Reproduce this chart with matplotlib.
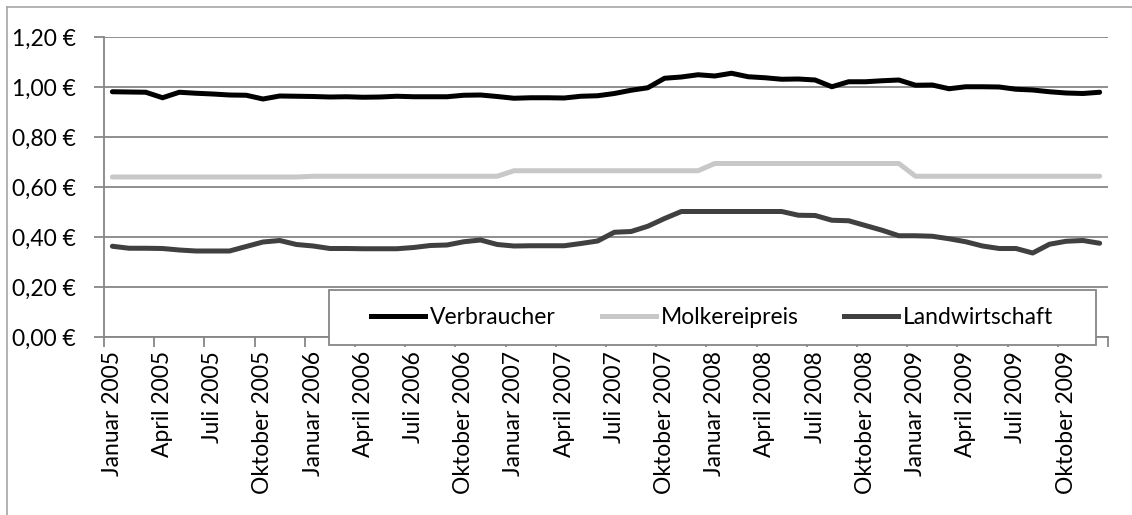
import numpy as np
import matplotlib
matplotlib.use("Agg")
import matplotlib.pyplot as plt
from matplotlib.patches import Rectangle
from matplotlib.lines import Line2D

plt.rcParams['font.family'] = ['Lato', 'DejaVu Sans']

month_names = ["Januar", "April", "Juli", "Oktober"]
years = [2005, 2006, 2007, 2008, 2009]
tick_labels = [f"{m} {y}" for y in years for m in month_names]

verbraucher = [0.981, 0.980, 0.979, 0.957, 0.979, 0.975, 0.972, 0.968, 0.967, 0.952,
               0.964, 0.963, 0.962, 0.960, 0.961, 0.959, 0.960, 0.963, 0.961, 0.961,
               0.961, 0.967, 0.968, 0.962, 0.955, 0.957, 0.957, 0.956, 0.963, 0.965,
               0.974, 0.987, 0.997, 1.035, 1.040, 1.049, 1.044, 1.055, 1.041, 1.037,
               1.031, 1.032, 1.028, 1.001, 1.021, 1.021, 1.025, 1.028, 1.007, 1.008,
               0.993, 1.001, 1.001, 1.000, 0.991, 0.988, 0.981, 0.976, 0.974, 0.979]

molkerei = [0.640] * 12 + [0.643] * 12 + [0.665] * 12 + [0.694] * 12 + [0.643] * 12

landwirtschaft = [0.363, 0.355, 0.355, 0.354, 0.348, 0.344, 0.344, 0.344, 0.362, 0.380,
                  0.386, 0.370, 0.364, 0.354, 0.354, 0.353, 0.353, 0.353, 0.358, 0.366,
                  0.368, 0.381, 0.388, 0.370, 0.364, 0.365, 0.365, 0.365, 0.374, 0.384,
                  0.419, 0.422, 0.443, 0.474, 0.502, 0.502, 0.502, 0.502, 0.502, 0.502,
                  0.502, 0.487, 0.486, 0.467, 0.465, 0.446, 0.427, 0.405, 0.405, 0.403,
                  0.393, 0.381, 0.364, 0.354, 0.354, 0.336, 0.371, 0.383, 0.386, 0.375]

series = [("Verbraucher", verbraucher, "#000000"),
          ("Molkereipreis", molkerei, "#c8c8c8"),
          ("Landwirtschaft", landwirtschaft, "#404040")]

W, H = 1132, 515
fs = 16.5
fig = plt.figure(figsize=(W / 100, H / 100), dpi=100)
ax = fig.add_axes([104 / W, 1 - 337 / H, (1108 - 104) / W, (337 - 37) / H])

x = np.arange(len(verbraucher))
for name, vals, col in series:
    ax.plot(x, vals, color=col, lw=3.6, solid_capstyle='round', solid_joinstyle='round', zorder=3)

grid_col = "#868686"
ax.set_xlim(-0.5, len(x) - 0.5)
ax.set_ylim(0, 1.2)
ax.set_yticks(np.arange(0, 1.21, 0.2))
ax.set_yticklabels([f"{v:.2f} €".replace(".", ",") for v in np.arange(0, 1.21, 0.2)])
ax.yaxis.grid(True, color=grid_col, lw=1.3)
ax.set_axisbelow(True)

ax.set_xticks(np.arange(-0.5, len(x), 3))
ax.set_xticklabels([])
ax.set_xticks(np.arange(0, len(x), 3), minor=True)
ax.set_xticklabels(tick_labels, minor=True, rotation=90, va='top', ha='center')
ax.tick_params(axis='x', which='major', length=7, width=1.3, color=grid_col, direction='out')
ax.tick_params(axis='x', which='minor', length=0, pad=10, labelsize=fs)
ax.tick_params(axis='y', length=7, width=1.3, color=grid_col, pad=13, labelsize=fs)

for s in ["top", "right"]:
    ax.spines[s].set_visible(False)
for s in ["left", "bottom"]:
    ax.spines[s].set_color(grid_col)
    ax.spines[s].set_linewidth(1.3)

# outer chart border (left and top)
fig.add_artist(Line2D([7 / W, 7 / W], [0, 1 - 7 / H], color="#a6a6a6", lw=1.2))
fig.add_artist(Line2D([7 / W, 1], [1 - 7 / H, 1 - 7 / H], color="#a6a6a6", lw=1.2))

# legend box
box = Rectangle((329 / W, 1 - 345 / H), (1096 - 329) / W, (345 - 290) / H,
                transform=fig.transFigure, facecolor="white", edgecolor="#868686",
                lw=1.3, zorder=4)
fig.add_artist(box)
handles = [Line2D([], [], color=c, lw=3.6) for _, _, c in series]
fig.legend(handles, [n for n, _, _ in series], ncol=3, frameon=False,
           loc='center', bbox_to_anchor=((329 + 1096) / 2 / W, 1 - 317.5 / H),
           fontsize=fs, handlelength=2.35, handletextpad=0.22, columnspacing=2.0)

fig.savefig("out.png", dpi=100)
